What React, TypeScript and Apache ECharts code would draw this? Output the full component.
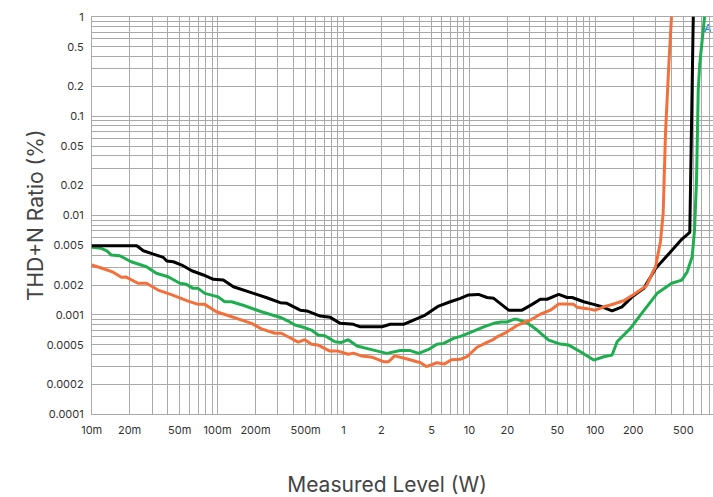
import React, { useEffect, useRef } from "react";
import * as echarts from "echarts";

// Tick labels
const xTickValues = [0.01, 0.02, 0.05, 0.1, 0.2, 0.5, 1, 2, 5, 10, 20, 50, 100, 200, 500];
const xTickLabels = ["10m", "20m", "50m", "100m", "200m", "500m", "1", "2", "5", "10", "20", "50", "100", "200", "500"];
const yTickValues = [0.0001, 0.0002, 0.0005, 0.001, 0.002, 0.005, 0.01, 0.02, 0.05, 0.1, 0.2, 0.5, 1];
const yTickLabels = ["0.0001", "0.0002", "0.0005", "0.001", "0.002", "0.005", "0.01", "0.02", "0.05", "0.1", "0.2", "0.5", "1"];
const gridMultipliers = [1, 2, 3, 4, 5, 6, 7, 8, 9];
const xDecades = [-2, -1, 0, 1, 2];
const yDecades = [-4, -3, -2, -1];
const X_MIN = 0.01, X_MAX = 1000, Y_MIN = 0.0001, Y_MAX = 1;

// Series: black
const blackLevel = [0.01, 0.0228, 0.0257, 0.0309, 0.0371, 0.0395, 0.0445, 0.0519, 0.0624, 0.0771, 0.0926, 0.111, 0.1335, 0.193, 0.246, 0.314, 0.355, 0.453, 0.512, 0.653, 0.784, 0.942, 1.2, 1.36, 2.02, 2.35, 3.0, 3.6, 4.46, 5.69, 7.05, 8.47, 9.86, 11.8, 13.8, 15.6, 20.5, 26.2, 31.5, 36.6, 41.4, 51.2, 59.7, 65.4, 80.9, 97.1, 113, 136, 163, 196, 243, 301, 410, 486, 563, 600];
const blackThd = [0.00494, 0.00494, 0.0044, 0.00407, 0.00377, 0.00347, 0.00341, 0.00316, 0.00277, 0.00251, 0.00227, 0.00223, 0.00191, 0.00164, 0.00148, 0.00132, 0.0013, 0.00111, 0.00109, 0.000968, 0.00094, 0.000818, 0.0008, 0.000755, 0.000755, 0.0008, 0.0008, 0.000883, 0.00099, 0.00122, 0.00135, 0.00146, 0.00158, 0.0016, 0.00149, 0.00146, 0.00111, 0.00111, 0.00127, 0.00143, 0.00143, 0.0016, 0.00149, 0.00149, 0.00135, 0.00127, 0.0012, 0.00109, 0.0012, 0.00151, 0.00184, 0.00292, 0.0045, 0.00573, 0.00675, 1];

// Series: green
const greenLevel = [0.01, 0.0119, 0.0132, 0.0143, 0.0167, 0.0206, 0.0272, 0.0326, 0.0404, 0.0501, 0.0565, 0.0638, 0.070, 0.0791, 0.101, 0.114, 0.129, 0.164, 0.223, 0.321, 0.363, 0.411, 0.464, 0.557, 0.629, 0.711, 0.855, 0.964, 1.09, 1.28, 1.73, 2.21, 2.82, 3.39, 3.95, 4.74, 5.52, 6.24, 7.49, 8.6, 10.8, 13.0, 15.6, 17.9, 19.9, 22.5, 23.9, 28.7, 34.5, 42.6, 52.8, 61.5, 76.2, 97.1, 117, 136, 149, 190, 228, 310, 405, 486, 537, 588, 614, 637, 657, 675, 738];
const greenThd = [0.00476, 0.00465, 0.0044, 0.00398, 0.00392, 0.00341, 0.00304, 0.00261, 0.00241, 0.00207, 0.00202, 0.00184, 0.00184, 0.00164, 0.00151, 0.00135, 0.00135, 0.00123, 0.00107, 0.000931, 0.000862, 0.000786, 0.000755, 0.0007, 0.000624, 0.000613, 0.000533, 0.000526, 0.00056, 0.000483, 0.00044, 0.000408, 0.000435, 0.000435, 0.000408, 0.000447, 0.000505, 0.000514, 0.000577, 0.000609, 0.000684, 0.000755, 0.000818, 0.000845, 0.000845, 0.000897, 0.000897, 0.000829, 0.0007, 0.000555, 0.000506, 0.000494, 0.000423, 0.000349, 0.000377, 0.000392, 0.000533, 0.000728, 0.000991, 0.00164, 0.00207, 0.00223, 0.0027, 0.00383, 0.00711, 0.0227, 0.183, 0.33, 1];

// Series: orange
const orangeLevel = [0.01, 0.0119, 0.0148, 0.0172, 0.0188, 0.0233, 0.0272, 0.0337, 0.0429, 0.0583, 0.070, 0.0791, 0.0978, 0.121, 0.186, 0.223, 0.285, 0.321, 0.363, 0.436, 0.493, 0.557, 0.629, 0.780, 0.907, 1.09, 1.2, 1.40, 1.70, 2.08, 2.28, 2.55, 3.15, 3.83, 4.07, 4.55, 5.52, 6.3, 7.2, 8.47, 9.57, 11.5, 13.8, 15.6, 16.6, 19.5, 23.9, 30, 36.6, 44, 51.2, 55, 67.3, 71.6, 86.1, 100, 117, 132, 168, 202, 255, 283, 301, 329, 346, 361, 383, 403];
const orangeThd = [0.00316, 0.00295, 0.00268, 0.00238, 0.00239, 0.00207, 0.00207, 0.00177, 0.00159, 0.00137, 0.00127, 0.00127, 0.00107, 0.00098, 0.000818, 0.00072, 0.00065, 0.00065, 0.0006, 0.00053, 0.00056, 0.000504, 0.000494, 0.00043, 0.00043, 0.0004, 0.00041, 0.000383, 0.000372, 0.000336, 0.000336, 0.000385, 0.00036, 0.000336, 0.00033, 0.0003, 0.000328, 0.000318, 0.000352, 0.000355, 0.000378, 0.00047, 0.000525, 0.000565, 0.000599, 0.00066, 0.00078, 0.000875, 0.00101, 0.00111, 0.00128, 0.00128, 0.00127, 0.00119, 0.00115, 0.00111, 0.0012, 0.00125, 0.00138, 0.0016, 0.00195, 0.00261, 0.00304, 0.0054, 0.0105, 0.067, 0.314, 1];

const lg = (v: number) => Number(Math.log10(v).toFixed(9));
const zip = (xs: number[], ys: number[]) => xs.map((x, i) => [x, ys[i]]);

const CHART_W = 740;
const CHART_H = 497;
const GRID_COLOR = "#a9a9a9";
const FONT = "Inter, 'Noto Sans', sans-serif";

export default function App() {
  const ref = useRef<HTMLDivElement>(null);
  useEffect(() => {
    if (!ref.current) return;
    const chart = echarts.init(ref.current, null, { renderer: "svg" });

    const xGrid: number[] = [];
    xDecades.forEach((d) => gridMultipliers.forEach((m) => xGrid.push(lg(m * Math.pow(10, d)))));
    xGrid.push(lg(X_MAX));
    const yGrid: number[] = [];
    yDecades.forEach((d) => gridMultipliers.forEach((m) => yGrid.push(lg(m * Math.pow(10, d)))));
    yGrid.push(lg(Y_MAX));

    const fmt = (vals: number[], labels: string[]) => (v: number) => {
      const i = vals.findIndex((t) => Math.abs(lg(t) - v) < 1e-6);
      return i >= 0 ? labels[i] : "";
    };

    const labelStyle = { color: "#333", fontSize: 11, fontFamily: FONT };

    chart.setOption({
      animation: false,
      grid: { left: 91.7, right: CHART_W - 721.2, top: 16.7, bottom: CHART_H - 414, containLabel: false },
      xAxis: [
        { type: "log", logBase: 10, min: X_MIN, max: X_MAX, show: false, position: "top" },
        {
          type: "value",
          min: lg(X_MIN),
          max: lg(X_MAX),
          position: "bottom",
          axisLine: { show: true, onZero: false, lineStyle: { color: GRID_COLOR, width: 1 } },
          axisTick: { show: false, customValues: xGrid },
          axisLabel: {
            ...labelStyle,
            margin: 10,
            customValues: xTickValues.map(lg),
            formatter: fmt(xTickValues, xTickLabels),
          },
          splitLine: { show: true, lineStyle: { color: GRID_COLOR, width: 1 } },
        },
      ],
      yAxis: [
        { type: "log", logBase: 10, min: Y_MIN, max: Y_MAX, show: false, position: "right" },
        {
          type: "value",
          min: lg(Y_MIN),
          max: lg(Y_MAX),
          position: "left",
          name: "THD+N Ratio (%)",
          nameLocation: "middle",
          nameGap: 46,
          nameMoveOverlap: false,
          nameTextStyle: { color: "#444", fontSize: 21, fontFamily: FONT },
          axisLine: { show: true, onZero: false, lineStyle: { color: GRID_COLOR, width: 1 } },
          axisTick: { show: false, customValues: yGrid },
          axisLabel: {
            ...labelStyle,
            margin: 8,
            customValues: yTickValues.map(lg),
            formatter: fmt(yTickValues, yTickLabels),
          },
          splitLine: { show: true, lineStyle: { color: GRID_COLOR, width: 1 } },
        },
      ],
      graphic: [
        {
          type: "text",
          x: 387,
          y: 484,
          style: {
            text: "Measured Level (W)",
            fill: "#444",
            font: `21px ${FONT}`,
            textAlign: "center",
            textVerticalAlign: "middle",
          },
        },
        {
          type: "text",
          x: 704,
          y: 23,
          style: { text: "A", fill: "#2a8fd6", font: `italic bold 10px ${FONT}` },
        },
      ],
      series: [
        {
          name: "Green",
          type: "line",
          xAxisIndex: 0,
          yAxisIndex: 0,
          showSymbol: false,
          data: zip(greenLevel, greenThd),
          lineStyle: { color: "#1fae4f", width: 3 },
          itemStyle: { color: "#1fae4f" },
        },
        {
          name: "Black",
          type: "line",
          xAxisIndex: 0,
          yAxisIndex: 0,
          showSymbol: false,
          data: zip(blackLevel, blackThd),
          lineStyle: { color: "#000000", width: 3 },
          itemStyle: { color: "#000000" },
        },
        {
          name: "Orange",
          type: "line",
          xAxisIndex: 0,
          yAxisIndex: 0,
          showSymbol: false,
          data: zip(orangeLevel, orangeThd),
          lineStyle: { color: "#f4703b", width: 3 },
          itemStyle: { color: "#f4703b" },
        },
      ],
    });
    return () => chart.dispose();
  }, []);

  return (
    <div style={{ position: "absolute", left: 0, top: 0, width: 713, height: 497, overflow: "hidden", background: "#fff" }}>
      <div ref={ref} style={{ width: CHART_W, height: CHART_H }} />
    </div>
  );
}
